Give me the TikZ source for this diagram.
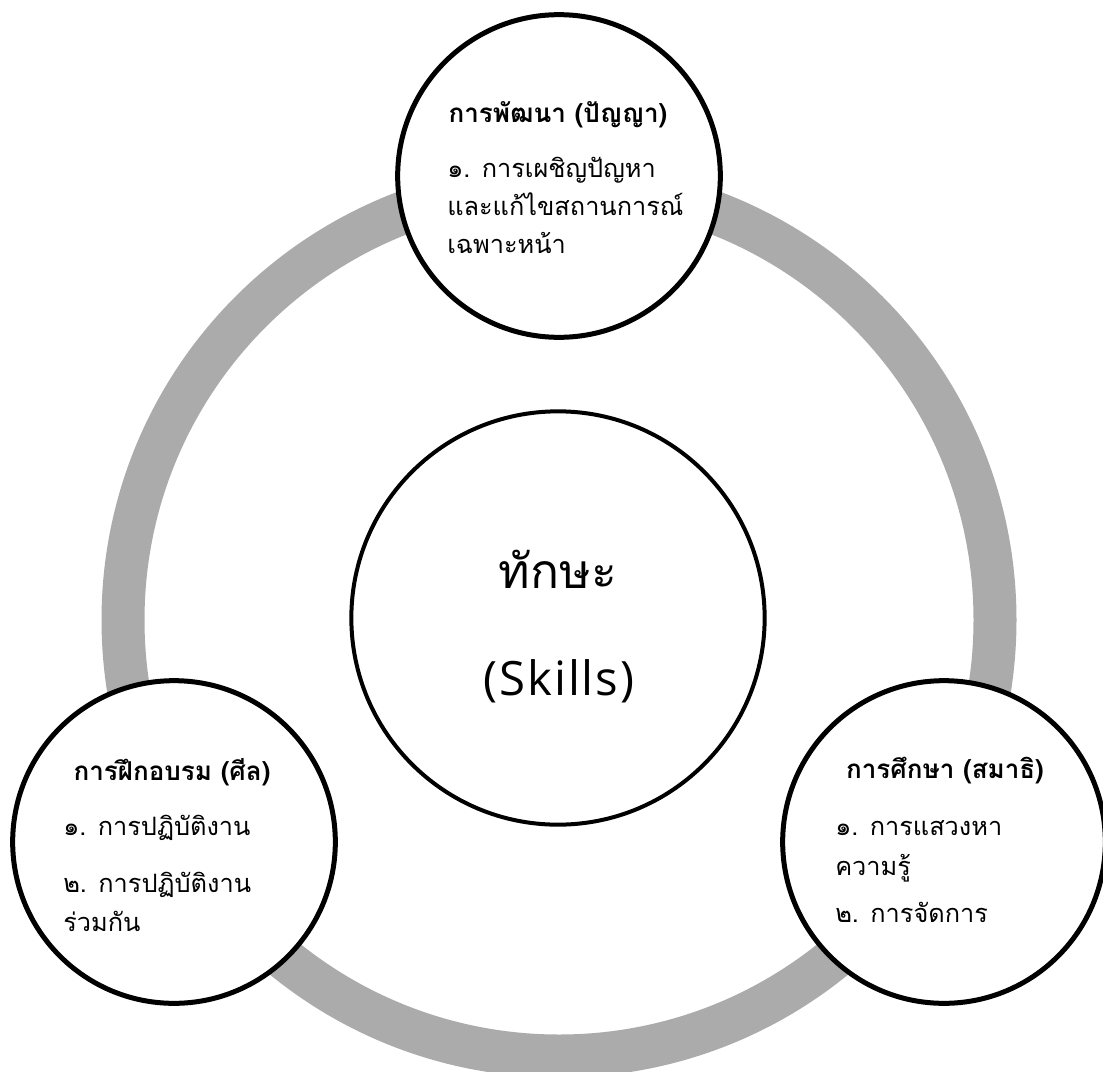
\documentclass[tikz,border=0pt]{standalone}
\usepackage{fontspec}
\newfontfamily\thaifont[Script=Thai]{Loma}
\newfontfamily\latinfont[LetterSpace=4]{Open Sans}
\definecolor{ringgray}{RGB}{171,171,171}
\tikzset{
  cyclering/.style={draw=ringgray, line width=32.25pt},
  partcircle/.style={circle, draw=black, fill=white, line width=3.75pt,
                     minimum size=242pt, inner sep=0pt},
  corecircle/.style={circle, draw=black, fill=white, line width=3pt,
                     minimum size=310pt, inner sep=0pt},
  headtext/.style={anchor=base, inner sep=0pt,
                   font=\thaifont\bfseries\fontsize{19.5}{24}\selectfont},
  itemtext/.style={anchor=base west, inner sep=0pt,
                   font=\thaifont\fontsize{19}{24}\selectfont},
  coretext/.style={anchor=base, inner sep=0pt,
                   font=\thaifont\fontsize{36}{42}\selectfont},
}
\begin{document}
\begin{tikzpicture}[x=0.75pt,y=-0.75pt]
\useasboundingbox (0,0) rectangle (1103,1071);
\clip (0,0) rectangle (1103,1071);

% hub of the cycle and the grey ring through the three parts
\coordinate (hub) at (559,620);
\draw[cyclering] (hub) circle[radius=436];

% the three parts sitting on the ring
\node[partcircle] (dev) at (559,176) {};
\node[partcircle] (train) at (174,842) {};
\node[partcircle] (study) at (944,842) {};

% the core
\node[corecircle] (core) at (558,618) {};

% core labels
\node[coretext] (coreth) at (558,588) {ทักษะ};
\node[coretext, font=\latinfont\fontsize{35.5}{42}\selectfont] (coreen) at (559,695) {(Skills)};

% development (wisdom)
\node[headtext] (devh) at (558,122) {การพัฒนา (ปัญญา)};
\node[itemtext] (dev1) at (447,177) {๑. การเผชิญปัญหา};
\node[itemtext] (dev1b) at (447,215) {และแก้ไขสถานการณ์};
\node[itemtext] (dev1c) at (447,253) {เฉพาะหน้า};

% training (precepts)
\node[headtext] (trainh) at (172,780) {การฝึกอบรม (ศีล)};
\node[itemtext] (train1) at (63,835) {๑. การปฏิบัติงาน};
\node[itemtext] (train2) at (63,892) {๒. การปฏิบัติงาน};
\node[itemtext] (train2b) at (63,931) {ร่วมกัน};

% study (concentration)
\node[headtext] (studyh) at (945,778) {การศึกษา (สมาธิ)};
\node[itemtext] (study1) at (835,835) {๑. การแสวงหา};
\node[itemtext] (study1b) at (835,875) {ความรู้};
\node[itemtext] (study2) at (835,922) {๒. การจัดการ};
\end{tikzpicture}
\end{document}
